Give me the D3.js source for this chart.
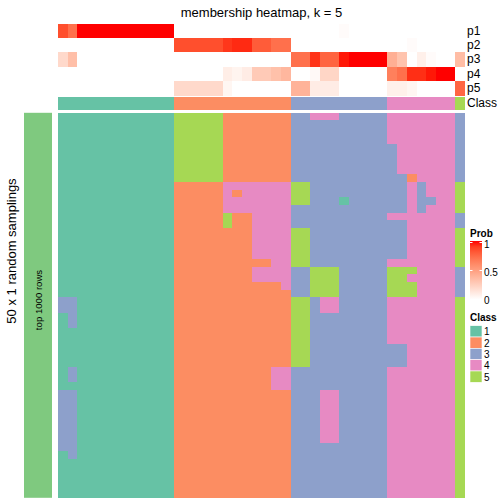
<!DOCTYPE html>
<html>
<head>
<meta charset="utf-8">
<script src="https://cdn.jsdelivr.net/npm/d3@7"></script>
<style>
  html, body { margin: 0; padding: 0; background: #fff; }
  svg { display: block; font-family: "Liberation Sans", Arial, Helvetica, sans-serif; }
</style>
</head>
<body>
<svg id="chart" width="504" height="504"></svg>
<script>
// ---------------- DATA ----------------
const title = "membership heatmap, k = 5";
const classLabels = ["1", "2", "3", "4", "5"];
const annotationNames = ["p1", "p2", "p3", "p4", "p5"];

// consensus class of each of the 42 columns
const columnClass = [
  1,1,1,1,1,1,1,1,1,1,1,1,
  2,2,2,2,2,2,2,2,2,2,2,2,
  3,3,3,3,3,3,3,3,3,3,
  4,4,4,4,4,4,4,
  5
];

// membership probabilities per column
const p1 = [0.85,0.72,1,1,1,1,1,1,1,1,1,1, 0,0,0,0,0,0,0,0,0,0,0,0, 0,0,0,0,0,0.02,0,0,0,0, 0,0,0,0,0,0,0, 0];
const p2 = [0,0,0,0,0,0,0,0,0,0,0,0, 0.85,0.85,0.85,0.85,0.85,0.92,0.95,0.95,0.8,0.8,0.72,0.72, 0,0,0,0,0,0,0,0,0,0, 0,0,0.02,0,0,0,0, 0];
const p3 = [0.2,0.34,0,0,0,0,0,0,0,0,0,0, 0,0,0,0,0,0,0,0,0,0,0,0, 0.72,0.72,0.93,0.77,0.77,0.98,1,1,1,1, 0.42,0.32,0,0.08,0.02,0,0, 0.35];
const p4 = [0,0,0,0,0,0,0,0,0,0,0,0, 0,0,0,0,0,0.09,0.06,0.1,0.28,0.28,0.33,0.38, 0,0,0.03,0.22,0.22,0,0,0,0,0, 0.65,0.72,0.94,0.94,0.98,1,1, 0];
const p5 = [0,0,0,0,0,0,0,0,0,0,0,0, 0.2,0.2,0.2,0.2,0.2,0.05,0,0,0,0,0,0, 0.4,0.4,0.1,0.1,0.1,0,0,0,0,0, 0.08,0.08,0.05,0,0,0,0, 0.76];

// class assigned in each of the 50 random samplings (rows) for each column
const samplingRows = [
  "111111111111555552222222334443333344444443",
  "111111111111555552222222333333333344444443",
  "111111111111555552222222333333333344444443",
  "111111111111555552222222333333333344444443",
  "111111111111555552222222333333333334444443",
  "111111111111555552222222333333333334444443",
  "111111111111555552222222333333333334444443",
  "111111111111555552222222333333333334444443",
  "111111111111555552222222333333333333244443",
  "111111111111222224444444553333333333434445",
  "111111111111222224244444553333333333434445",
  "111111111111222224444444553331333333433445",
  "111111111111222224444444333333333333434445",
  "111111111111222225224444333333333344444443",
  "111111111111222225224444333333333333444443",
  "111111111111222222224444553333333333444445",
  "111111111111222222224444553333333333444445",
  "111111111111222222224444553333333333444445",
  "111111111111222222224444553333333333444445",
  "111111111111222222222244553333333344444445",
  "111111111111222222224444335553333355544443",
  "111111111111222222224444335553333355444443",
  "111111111111222222222224335553333355544443",
  "111111111111222222222222335553333355544443",
  "331111111111222222222222553443333344444445",
  "331111111111222222222222553443333344444445",
  "131111111111222222222222553333333344444445",
  "131111111111222222222222553333333344444445",
  "111111111111222222222222553333333344444445",
  "111111111111222222222222553333333344444445",
  "111111111111222222222222553333333333444445",
  "111111111111222222222222553333333333444445",
  "111111111111222222222222553333333333444445",
  "131111111111222222222244333333333344444445",
  "131111111111222222222244333333333344444445",
  "111111111111222222222244333333333344444445",
  "331111111111222222222222333443333344444445",
  "331111111111222222222222333443333344444445",
  "331111111111222222222222333443333344444445",
  "331111111111222222222222333443333344444445",
  "331111111111222222222222333443333344444445",
  "331111111111222222222222333443333344444445",
  "331111111111222222222222333443333344444445",
  "331111111111222222222222333333333344444445",
  "131111111111222222222222333333333344444445",
  "111111111111222222222222333333333344444445",
  "111111111111222222222222333333333344444445",
  "111111111111222222222222333333333344444445",
  "111111111111222222222222333333333344444445",
  "111111111111222222222222333333333344444445"
];

const probTicks = [0, 0.5, 1];
const rowTitle = "50 x 1 random samplings";
const sliceTitle = "top 1000 rows";

// ---------------- STYLE / LAYOUT ----------------
const classColors = ["#66C2A5", "#FC8D62", "#8DA0CB", "#E78AC3", "#A6D854"];
const sideColor = "#7FC97F";
const X0 = 58, X1 = 465;
const annTop = 23.7, annRowH = 14.3;
const classTop = 96.5, classH = 13.5;
const Y0 = 112.8, Y1 = 497.3;

const svg = d3.select("#chart");
const nCols = columnClass.length;
const x = d3.scaleBand().domain(d3.range(nCols)).range([X0, X1]).padding(0);
const yMain = d3.scaleBand().domain(d3.range(samplingRows.length)).range([Y0, Y1]).padding(0);
const yAnn = d3.scaleBand().domain(annotationNames).range([annTop, annTop + annRowH * 5]).padding(0);
const probColor = d3.scaleLinear().domain([0, 1]).range(["#FFFFFF", "#FF0000"]).interpolate(d3.interpolateLab);
const classColor = d3.scaleOrdinal().domain([1, 2, 3, 4, 5]).range(classColors);

// title
svg.append("text")
  .attr("x", (X0 + X1) / 2).attr("y", 16.5)
  .attr("text-anchor", "middle").attr("font-size", 13).attr("fill", "#000")
  .text(title);

// probability annotation rows
const probSeries = [p1, p2, p3, p4, p5];
probSeries.forEach((vals, i) => {
  svg.append("g").attr("shape-rendering", "crispEdges")
    .selectAll("rect").data(vals).join("rect")
    .attr("x", (d, j) => x(j)).attr("width", x.bandwidth() + 0.3)
    .attr("y", yAnn(annotationNames[i])).attr("height", yAnn.bandwidth() + 0.3)
    .attr("fill", d => probColor(d));
  svg.append("text")
    .attr("x", 467).attr("y", yAnn(annotationNames[i]) + yAnn.bandwidth() / 2)
    .attr("dominant-baseline", "central").attr("font-size", 12).attr("fill", "#000")
    .text(annotationNames[i]);
});

// class annotation row
svg.append("g").attr("shape-rendering", "crispEdges")
  .selectAll("rect").data(columnClass).join("rect")
  .attr("x", (d, j) => x(j)).attr("width", x.bandwidth() + 0.3)
  .attr("y", classTop).attr("height", classH)
  .attr("fill", d => classColor(d));
svg.append("text")
  .attr("x", 467).attr("y", classTop + classH / 2)
  .attr("dominant-baseline", "central").attr("font-size", 12).attr("fill", "#000")
  .text("Class");

// main heatmap
const cells = [];
samplingRows.forEach((row, r) => {
  row.split("").forEach((c, j) => cells.push({ r, j, v: +c }));
});
svg.append("g").attr("shape-rendering", "crispEdges")
  .selectAll("rect").data(cells).join("rect")
  .attr("x", d => x(d.j)).attr("width", x.bandwidth() + 0.3)
  .attr("y", d => yMain(d.r)).attr("height", yMain.bandwidth() + 0.3)
  .attr("fill", d => classColor(d.v));

// left slice bar
svg.append("rect")
  .attr("x", 24).attr("y", Y0).attr("width", 28).attr("height", Y1 - Y0 + 0.5)
  .attr("fill", sideColor);
svg.append("text")
  .attr("transform", `translate(41.5,300) rotate(-90)`)
  .attr("text-anchor", "middle").attr("font-size", 9.6).attr("fill", "#000")
  .text(sliceTitle);
svg.append("text")
  .attr("transform", `translate(15.5,251) rotate(-90)`)
  .attr("text-anchor", "middle").attr("font-size", 13).attr("fill", "#000")
  .text(rowTitle);

// Prob legend
const lgX = 470, lgW = 12;
svg.append("text").attr("x", lgX).attr("y", 236.5)
  .attr("font-size", 10).attr("font-weight", "bold").attr("fill", "#000").text("Prob");
const defs = svg.append("defs");
const grad = defs.append("linearGradient").attr("id", "probGrad")
  .attr("x1", 0).attr("y1", 1).attr("x2", 0).attr("y2", 0);
d3.range(0, 1.0001, 0.1).forEach(t => {
  grad.append("stop").attr("offset", t).attr("stop-color", probColor(t));
});
const yLeg = d3.scaleLinear().domain([0, 1]).range([298.5, 242.5]);
svg.append("rect").attr("x", lgX).attr("y", 241).attr("width", lgW).attr("height", 58.5)
  .attr("fill", "url(#probGrad)");
probTicks.forEach(t => {
  if (t > 0) {
    svg.append("line").attr("x1", lgX).attr("x2", lgX + 2.5)
      .attr("y1", yLeg(t)).attr("y2", yLeg(t)).attr("stroke", "#fff").attr("stroke-width", 1);
    svg.append("line").attr("x1", lgX + lgW - 2.5).attr("x2", lgX + lgW)
      .attr("y1", yLeg(t)).attr("y2", yLeg(t)).attr("stroke", "#fff").attr("stroke-width", 1);
  }
  svg.append("text").attr("x", 484).attr("y", yLeg(t) + 1.5)
    .attr("dominant-baseline", "central").attr("font-size", 10).attr("fill", "#000")
    .text(t === 0.5 ? "0.5" : String(t));
});

// Class legend
svg.append("text").attr("x", lgX).attr("y", 320.5)
  .attr("font-size", 10).attr("font-weight", "bold").attr("fill", "#000").text("Class");
const yCls = d3.scaleBand().domain(classLabels).range([325.7, 382.3]).padding(0);
classLabels.forEach((lab, i) => {
  svg.append("rect").attr("x", lgX).attr("y", yCls(lab)).attr("width", lgW).attr("height", yCls.bandwidth())
    .attr("fill", classColor(i + 1)).attr("stroke", "#fff").attr("stroke-width", 0.6);
  svg.append("text").attr("x", 484).attr("y", yCls(lab) + yCls.bandwidth() / 2 + 0.5)
    .attr("dominant-baseline", "central").attr("font-size", 10).attr("fill", "#000")
    .text(lab);
});
</script>
</body>
</html>
